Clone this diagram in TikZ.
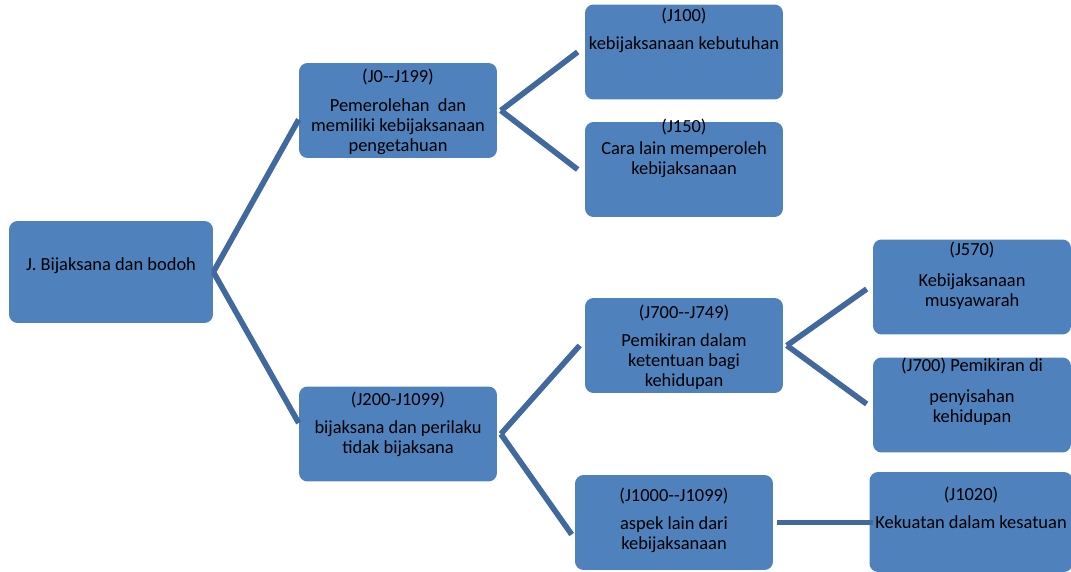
\documentclass[tikz,border=0pt]{standalone}
\usepackage{fontspec}
\setmainfont{Carlito}
\definecolor{boxblue}{HTML}{4F81BD}
\definecolor{lineblue}{HTML}{41699E}
\tikzset{
  box/.style={fill=boxblue, draw=none, rounded corners=0.17cm, minimum width=3.96cm, minimum height=1.9cm, inner sep=0pt},
  txt/.style={align=center, inner sep=0pt, font=\fontsize{10.5}{11.5}\selectfont},
  link/.style={lineblue, line width=3.2pt}
}
\begin{document}
\begin{tikzpicture}[x=0.02cm, y=-0.02cm]
\useasboundingbox (0,0) rectangle (1071,571);
\node[box, minimum width=4.08cm, minimum height=2.04cm] (root) at (111,272) {};
\node[box] (acq) at (398,110.5) {};
\node[box] (need) at (684,52) {};
\node[box] (other) at (684,169.5) {};
\node[box] (wise) at (398,434) {};
\node[box] (think) at (684,345.5) {};
\node[box] (delib) at (972,287) {};
\node[box] (separ) at (972,405) {};
\node[box] (aspect) at (674,522.5) {};
\node[box, minimum width=4.06cm, minimum height=2cm] (unity) at (971,522) {};
\node[txt] (rootT) at (111,266) {J. Bijaksana dan bodoh};
\node[txt] (acqT) at (398,112) {(J0{-}{-}J199)\\[4.5pt]Pemerolehan\ \ dan\\memiliki kebijaksanaan\\pengetahuan};
\node[txt] (needT) at (684,30) {(J100)\\[4.5pt]kebijaksanaan kebutuhan};
\node[txt] (otherT) at (684,148) {(J150)\\[1pt]Cara lain memperoleh\\kebijaksanaan};
\node[txt] (wiseT) at (398,424) {(J200-J1099)\\[4.5pt]bijaksana dan perilaku\\tidak bijaksana};
\node[txt] (thinkT) at (684,347) {(J700{-}{-}J749)\\[4.5pt]Pemikiran dalam\\ketentuan bagi\\kehidupan};
\node[txt] (delibT) at (972,276) {(J570)\\[6pt]Kebijaksanaan\\musyawarah};
\node[txt] (separT) at (972,392) {(J700) Pemikiran di\\[6pt]penyisahan\\kehidupan};
\node[txt] (aspectT) at (674,520) {(J1000{-}{-}J1099)\\[4.5pt]aspek lain dari\\kebijaksanaan};
\node[txt] (unityT) at (971,508) {(J1020)\\[4.5pt]Kekuatan dalam kesatuan};
\draw[link] (root.east) -- ([yshift=-0.18cm]acq.west);
\draw[link] (root.east) -- ([yshift=0.22cm]wise.west);
\draw[link] ([xshift=2pt]acq.east) -- ([xshift=-0.14cm]need.west);
\draw[link] ([xshift=2pt]acq.east) -- ([xshift=-0.14cm]other.west);
\draw[link] ([xshift=2pt]wise.east) -- ([xshift=-0.1cm]think.west);
\draw[link] ([xshift=2pt]wise.east) -- ([xshift=-0.06cm,yshift=-0.24cm]aspect.west);
\draw[link] ([xshift=2pt]think.east) -- ([xshift=-0.12cm,yshift=-0.04cm]delib.west);
\draw[link] ([xshift=2pt]think.east) -- ([xshift=-0.12cm,yshift=0.02cm]separ.west);
\draw[link] ([xshift=0.08cm]aspect.east) -- ([xshift=0.08cm]aspect.east -| unity.west);
\end{tikzpicture}
\end{document}
